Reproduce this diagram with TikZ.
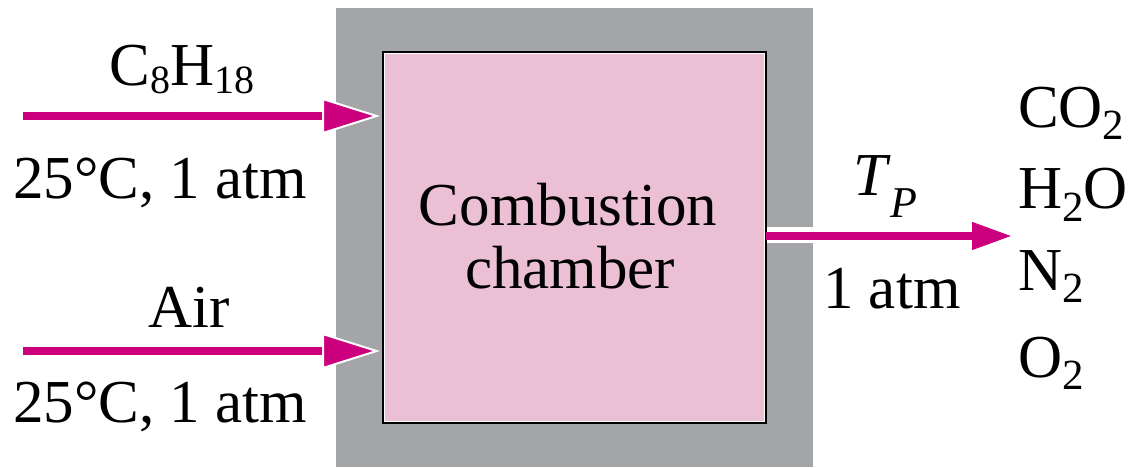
\documentclass[tikz,border=0pt]{standalone}
\usepackage{fontspec}
\setmainfont{Liberation Serif}
\usetikzlibrary{arrows.meta}
\definecolor{flow}{RGB}{204,0,126}
\definecolor{wallgray}{RGB}{163,165,168}
\definecolor{chamberpink}{RGB}{235,192,212}
% \lowsub{drop in pt}{size in pt}{text}
\newcommand\lowsub[3]{\raisebox{-#1pt}{\fontsize{#2}{#2}\selectfont #3}}
\begin{document}
\begin{tikzpicture}[x=1pt,y=-1pt,
  lbl/.style={inner sep=0pt, anchor=base, font=\fontsize{61}{70}\selectfont},
  lblw/.style={lbl, anchor=base west},
  inflow/.style={draw=flow, line width=7.5pt,
    -{Triangle[length=58pt,width=36pt,line width=2pt,color=white,fill=flow]}},
  outflow/.style={draw=flow, line width=7.5pt,
    -{Triangle[length=40pt,width=26pt,fill=flow]}},
  wallbox/.style={fill=wallgray, draw=none, minimum width=477pt, minimum height=459pt, inner sep=0pt},
  chamberbox/.style={fill=chamberpink, draw=black, line width=3pt, minimum width=382pt, minimum height=370pt, inner sep=0pt}
]
\useasboundingbox[fill=white] (0,0) rectangle (1130,467);

% insulated wall and chamber
\node[wallbox] (wall) at (574.5,237.5) {};
\node[fill=white, minimum width=50pt, minimum height=16pt, inner sep=0pt] (port) at (790,235) {};
\node[chamberbox] (chamber) at (574,237) {};
\draw[white, line width=0.8pt] ([shift={(2.6pt,-2.6pt)}]chamber.north west) rectangle ([shift={(-2.6pt,2.6pt)}]chamber.south east);

\node[lbl] (ch1) at (568,225) {Combustion};
\node[lbl] (ch2) at (570,288) {chamber};

% inlet streams
\coordinate (fuelin) at (23,116);
\coordinate (fueltip) at (380,116);
\coordinate (airin) at (23,351);
\coordinate (airtip) at (380,351);
\draw[inflow] (fuelin) -- (fueltip);
\draw[inflow] (airin) -- (airtip);

\node[lbl] (fuel) at (182,85) {C\lowsub{8}{40}{8}H\lowsub{8}{40}{18}};
\node[lbl] (fuelstate) at (160,198) {25°C, 1 atm};
\node[lbl] (air) at (189,327) {Air};
\node[lbl] (airstate) at (160,422) {25°C, 1 atm};

% outlet stream
\coordinate (outstart) at (766,236);
\coordinate (outtip) at (1012,236);
\draw[outflow] (outstart) -- (outtip);

\node[lblw] (tp) at (853,195) {\textit{T}\lowsub{22}{44}{\textit{P}}};
\node[lblw] (pout) at (823,308) {1 atm};

\node[lblw] (co2) at (1018,127) {CO\lowsub{12}{43}{2}};
\node[lblw] (h2o) at (1018,208) {H\lowsub{13}{43}{2}O};
\node[lblw] (n2) at (1018,290) {N\lowsub{12}{43}{2}};
\node[lblw] (o2) at (1018,377) {O\lowsub{12}{43}{2}};
\end{tikzpicture}
\end{document}
